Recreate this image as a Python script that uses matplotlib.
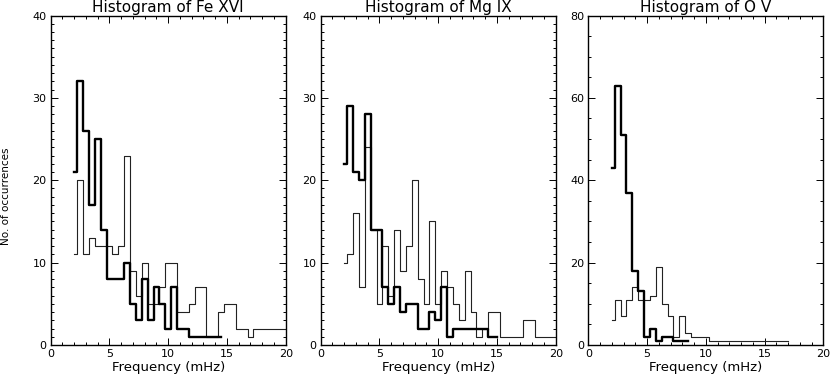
import matplotlib
matplotlib.use("Agg")
import matplotlib.pyplot as plt
import numpy as np
from matplotlib.ticker import MultipleLocator

# histogram bins (mHz): first bin centre and bin width
bin_start = 2.0
bin_width = 0.5

titles = ["Histogram of Fe XVI", "Histogram of Mg IX", "Histogram of O V"]

fe_thick = [21, 32, 26, 17, 25, 14, 8, 8, 8, 10, 5, 3, 8, 3, 7, 5, 2, 7, 2, 2,
            1, 1, 1, 1, 1, 1]
fe_thin = [11, 20, 11, 13, 12, 12, 12, 11, 12, 23, 9, 6, 10, 5, 5, 7, 10, 10, 4, 4,
           5, 7, 7, 1, 1, 4, 5, 5, 2, 2, 1, 2, 2, 2, 2, 2, 2]

mg_thick = [22, 29, 21, 20, 28, 14, 14, 7, 5, 7, 4, 5, 5, 2, 2, 4, 3, 7, 1, 2,
            2, 2, 2, 2, 2, 1, 1]
mg_thin = [10, 11, 16, 7, 24, 14, 5, 12, 6, 14, 9, 12, 20, 8, 5, 15, 5, 9, 7, 5,
           3, 9, 4, 1, 2, 4, 4, 1, 1, 1, 1, 3, 3, 1, 1, 1, 1]

o_thick = [43, 63, 51, 37, 18, 13, 2, 4, 1, 2, 2, 1, 1, 1]
o_thin = [6, 11, 7, 11, 14, 11, 11, 12, 19, 10, 7, 2, 7, 3, 2, 2, 2,
          1, 1, 1, 1, 1, 1, 1, 1, 1, 1, 1, 1, 1, 1]

thick = [fe_thick, mg_thick, o_thick]
thin = [fe_thin, mg_thin, o_thin]
ymax = [40, 40, 80]
ymajor = [10, 10, 20]
yminor = [1, 1, 5]

plt.rcParams["font.family"] = "DejaVu Sans"
fig = plt.figure(figsize=(8.34, 3.75), dpi=100)

lefts = [50.7, 320.7, 588.3]
for i in range(3):
    ax = fig.add_axes([lefts[i] / 834, 30 / 375, 235 / 834, 329.5 / 375])
    x1 = bin_start + bin_width * np.arange(len(thin[i]))
    x2 = bin_start + bin_width * np.arange(len(thick[i]))
    ax.step(x1, thin[i], where="mid", color="#222222", lw=0.8)
    ax.step(x2, thick[i], where="mid", color="k", lw=1.7)
    ax.set_xlim(0, 20)
    ax.set_ylim(0, ymax[i])
    ax.xaxis.set_major_locator(MultipleLocator(5))
    ax.xaxis.set_minor_locator(MultipleLocator(1))
    ax.yaxis.set_major_locator(MultipleLocator(ymajor[i]))
    ax.yaxis.set_minor_locator(MultipleLocator(yminor[i]))
    ax.tick_params(which="both", direction="in", top=True, right=True,
                   labelsize=8, pad=3, width=0.7)
    ax.tick_params(which="major", length=5)
    ax.tick_params(which="minor", length=2.5)
    for s in ax.spines.values():
        s.set_linewidth(1.0)
    ax.set_title(titles[i], fontsize=11, pad=2.5)
    ax.set_xlabel("Frequency (mHz)", fontsize=9.5, labelpad=1)
    if i == 0:
        ax.set_ylabel("No. of occurrences", fontsize=7.5)
        ax.yaxis.set_label_coords(-0.168, 0.45)

fig.savefig("out.png", dpi=100)
